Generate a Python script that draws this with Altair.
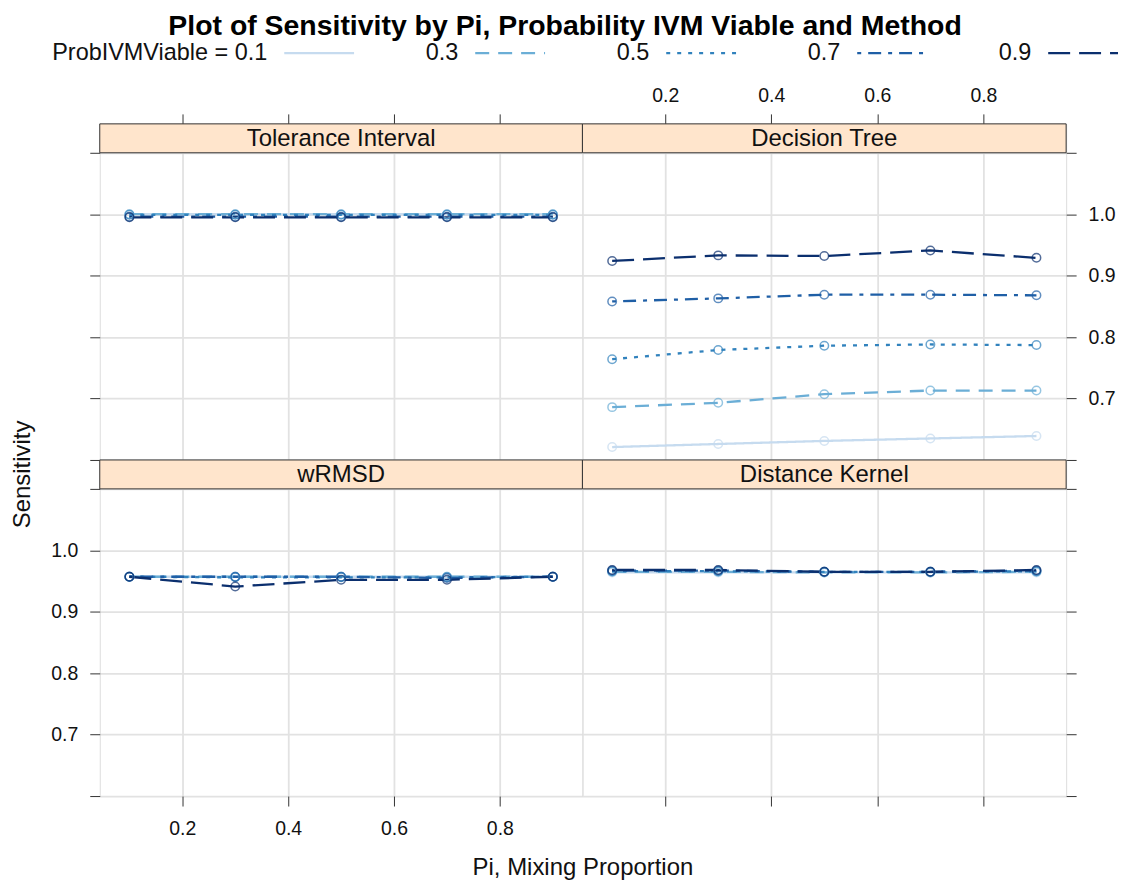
import altair as alt
import pandas as pd

FONT = "Liberation Sans"

pi_vals = [0.1, 0.3, 0.5, 0.7, 0.9]
viable_levels = ["0.1", "0.3", "0.5", "0.7", "0.9"]
legend_labels = ["ProbIVMViable = 0.1", "0.3", "0.5", "0.7", "0.9"]
methods = ["Tolerance Interval", "Decision Tree", "wRMSD", "Distance Kernel"]

tolerance_interval = {
    "0.1": [1.000, 1.000, 1.000, 1.000, 1.000],
    "0.3": [1.000, 1.000, 1.000, 1.000, 1.000],
    "0.5": [0.999, 0.999, 0.999, 0.999, 0.999],
    "0.7": [0.996, 0.996, 0.996, 0.996, 0.996],
    "0.9": [0.995, 0.995, 0.995, 0.995, 0.995],
}
decision_tree = {
    "0.1": [0.621, 0.626, 0.631, 0.635, 0.639],
    "0.3": [0.686, 0.693, 0.707, 0.713, 0.713],
    "0.5": [0.764, 0.779, 0.786, 0.788, 0.787],
    "0.7": [0.858, 0.863, 0.869, 0.869, 0.868],
    "0.9": [0.924, 0.933, 0.932, 0.941, 0.929],
}
wrmsd = {
    "0.1": [0.957, 0.957, 0.957, 0.957, 0.957],
    "0.3": [0.957, 0.957, 0.957, 0.957, 0.957],
    "0.5": [0.957, 0.956, 0.956, 0.956, 0.957],
    "0.7": [0.957, 0.957, 0.957, 0.955, 0.957],
    "0.9": [0.957, 0.941, 0.952, 0.952, 0.957],
}
distance_kernel = {
    "0.1": [0.964, 0.964, 0.964, 0.964, 0.964],
    "0.3": [0.965, 0.965, 0.964, 0.964, 0.965],
    "0.5": [0.966, 0.966, 0.965, 0.965, 0.966],
    "0.7": [0.967, 0.967, 0.965, 0.965, 0.967],
    "0.9": [0.968, 0.968, 0.965, 0.965, 0.968],
}

line_colors = ["#c6dbef", "#6baed6", "#3182bd", "#1f5fa6", "#0b2f6e"]
line_dashes = [[1, 0], [14, 9], [4, 7], [4, 7, 13, 7], [22, 9]]

PW_L, PW_R, PH, SH = 484, 485, 308, 29
Y_TOP = 1.1 + 0.5 * SH / PH

color_scale = alt.Scale(domain=viable_levels, range=line_colors)
dash_scale = alt.Scale(domain=viable_levels, range=line_dashes)
x_scale = alt.Scale(domain=[0.044, 0.956], nice=False, zero=False)
y_scale = alt.Scale(domain=[0.6, Y_TOP], nice=False, zero=False)

AX = dict(domain=False, tickSize=10, tickColor="#333", tickWidth=1,
          grid=True, gridColor="#e2e2e2", gridWidth=1.8,
          labelFont=FONT, labelFontSize=19.5, labelColor="#111",
          titleFont=FONT, titleFontSize=24, titleColor="#111", titleFontWeight="normal")


def to_frame(values):
    rows = []
    for lv in viable_levels:
        for p, v in zip(pi_vals, values[lv]):
            rows.append({"pi": p, "level": lv, "sens": v})
    return pd.DataFrame(rows)


def panel(method, values, w, col, row):
    df = to_frame(values)
    show_x_labels = (row == 0 and col == 1) or (row == 1 and col == 0)
    show_y_labels = (row == 0 and col == 1) or (row == 1 and col == 0)
    xkw = dict(AX)
    ykw = dict(AX)
    if row == 1 and col == 0:
        xkw.update(title="Pi, Mixing Proportion", titleX=w, titleY=72,
                   titleAlign="center", titleBaseline="middle")
        ykw.update(title="Sensitivity", titleX=-77, titleY=14,
                   titleAlign="center", titleBaseline="middle", titleAngle=270)
    else:
        xkw.update(title=None)
        ykw.update(title=None)
    xaxis = alt.Axis(orient="top" if row == 0 else "bottom",
                     values=[0.2, 0.4, 0.6, 0.8], format=".1f",
                     labels=show_x_labels, labelPadding=8 if row == 0 else 14, **xkw)
    yaxis = alt.Axis(orient="left" if col == 0 else "right",
                     values=[0.6, 0.7, 0.8, 0.9, 1.0, 1.1],
                     labelExpr="datum.value < 0.65 || datum.value > 1.05 ? '' : format(datum.value, '.1f')",
                     labels=show_y_labels, labelPadding=12, **ykw)
    X = alt.X("pi:Q", scale=x_scale, axis=xaxis)
    Y = alt.Y("sens:Q", scale=y_scale, axis=yaxis)
    C = alt.Color("level:N", scale=color_scale, legend=None)

    lines = alt.Chart(df).mark_line(strokeWidth=2.3).encode(
        x=X, y=Y, color=C,
        strokeDash=alt.StrokeDash("level:N", scale=dash_scale, legend=None))
    points = alt.Chart(df).mark_point(shape="circle", filled=False, size=72, strokeWidth=1.5).encode(
        x=X, y=Y, color=C)
    sdata = alt.Data(values=[{"method": method}])
    strip = alt.Chart(sdata).mark_rect(fill="#ffe5cc", stroke="#333", strokeWidth=1).encode(
        x=alt.value(0), x2=alt.value(w), y=alt.value(0), y2=alt.value(SH))
    stext = alt.Chart(sdata).mark_text(font=FONT, fontSize=24, color="#111", baseline="middle").encode(
        x=alt.value(w / 2), y=alt.value(SH / 2 + 1), text="method:N")
    return alt.layer(lines, points, strip, stext).properties(width=w, height=PH + SH)


tl = panel(methods[0], tolerance_interval, PW_L, 0, 0)
tr = panel(methods[1], decision_tree, PW_R, 1, 0)
bl = panel(methods[2], wrmsd, PW_L, 0, 1)
br = panel(methods[3], distance_kernel, PW_R, 1, 1)

# key drawn above the top-left panel
leg_df = pd.DataFrame({"level": viable_levels, "label": legend_labels})
LX = alt.X("level:N", scale=alt.Scale(type="point", domain=viable_levels, range=[185, 951], padding=0), axis=None)
leg_rule = alt.Chart(leg_df).mark_rule(strokeWidth=2.3, x2Offset=70).encode(
    x=LX, x2=alt.X2("level:N"), y=alt.value(-71),
    color=alt.Color("level:N", scale=color_scale, legend=None),
    strokeDash=alt.StrokeDash("level:N", scale=dash_scale, legend=None))
leg_text = alt.Chart(leg_df).mark_text(font=FONT, fontSize=23.5, color="#111", align="right",
                                       baseline="middle", dx=-17).encode(
    x=LX, y=alt.value(-71), text="label:N")
tl = alt.layer(tl, alt.layer(leg_rule, leg_text)).resolve_scale(x="independent")

chart = alt.concat(tl, tr, bl, br, columns=2, spacing=0, bounds="flush").properties(
    title=alt.TitleParams("Plot of Sensitivity by Pi, Probability IVM Viable and Method",
                          font=FONT, fontSize=28.5, fontWeight="bold", color="#000",
                          anchor="middle", offset=0),
    padding={"left": 2, "top": 3, "right": 2, "bottom": 2},
).configure_view(stroke="#333", strokeWidth=1).configure(font=FONT)

chart.save("out.html", embed_options={"renderer": "svg", "actions": False})
